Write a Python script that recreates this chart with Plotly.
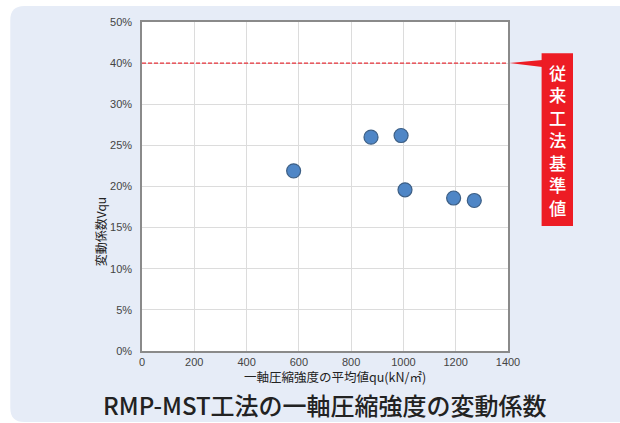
import plotly.graph_objects as go

# ---- data ----
strength_qu = [580, 876, 991, 1006, 1192, 1271]          # kN/m2
cv_percent = [21.9, 26.0, 26.2, 19.6, 18.6, 18.3]         # %
baseline_percent = 40
y_tick_values = [0, 5, 10, 15, 20, 25, 30, 40, 50]
y_tick_labels = ["0%", "5%", "10%", "15%", "20%", "25%", "30%", "40%", "50%"]
x_tick_values = [0, 200, 400, 600, 800, 1000, 1200, 1400]
label_text = "従来工法基準値"

# reference axis: ticks evenly spaced although step changes from 5% to 10% above 30%
def ymap(v):
    return v if v <= 30 else 30 + (v - 30) / 2

W, H = 620, 423
L, R, T, B = 141.7, 112.3, 22, 72
pw, ph = W - L - R, H - T - B

def px(xp):  # pixel -> paper x
    return (xp - L) / pw

def py(yp):  # pixel -> paper y
    return 1 - (yp - T) / ph

fig = go.Figure()

fig.add_trace(go.Scatter(
    x=strength_qu, y=[ymap(v) for v in cv_percent], mode="markers",
    marker=dict(size=14, color="#4f86c6", line=dict(color="#3d5f85", width=1.2)),
    hoverinfo="x+y", showlegend=False,
))

# baseline dashed line
fig.add_trace(go.Scatter(
    x=[0, 1400], y=[ymap(baseline_percent)] * 2, mode="lines",
    line=dict(color="#e8323a", width=1.2, dash="4px,2px"),
    hoverinfo="skip", showlegend=False,
))

shapes = []
r = 14
shapes.append(dict(
    type="path", xref="paper", yref="paper", layer="below",
    path=(f"M {px(10)} {py(6+r)} Q {px(10)} {py(6)} {px(10+r)} {py(6)} "
          f"L {px(640)} {py(6)} L {px(640)} {py(422)} L {px(10+r)} {py(422)} "
          f"Q {px(10)} {py(422)} {px(10)} {py(422-r)} Z"),
    fillcolor="#e6ecf7", line=dict(width=0),
))
# white plot area
shapes.append(dict(type="rect", xref="paper", yref="paper", layer="below",
                   x0=0, y0=0, x1=1, y1=1, fillcolor="white", line=dict(width=0)))
# red label box
shapes.append(dict(type="rect", xref="paper", yref="paper",
                   x0=px(541.3), x1=px(572.7), y0=py(226), y1=py(53.3),
                   fillcolor="#ed1c24", line=dict(width=0)))
# pointer triangle
shapes.append(dict(type="path", xref="paper", yref="paper",
                   path=f"M {px(509)} {py(63)} L {px(542)} {py(60)} L {px(542)} {py(67)} Z",
                   fillcolor="#ed1c24", line=dict(width=0)))

annotations = []
annotations.append(dict(
    text="<br>".join(label_text), xref="paper", yref="paper", x=px(557), y=py(140.5),
    showarrow=False, align="center",
    font=dict(family="Noto Sans CJK JP", size=17.3, color="white", weight=500),
    xanchor="center", yanchor="middle"))
annotations.append(dict(
    text="変動係数Vqu", xref="paper", yref="paper", x=px(100), y=py(232),
    textangle=-90, showarrow=False, xanchor="center", yanchor="middle",
    font=dict(family="Noto Sans CJK JP", size=12, color="#222")))
annotations.append(dict(
    text="一軸圧縮強度の平均値qu(kN/㎡)", xref="paper", yref="paper", x=px(335), y=py(376),
    showarrow=False, xanchor="center", yanchor="middle",
    font=dict(family="Noto Sans CJK JP", size=12.5, color="#222")))
annotations.append(dict(
    text="RMP-MST工法の一軸圧縮強度の変動係数", xref="paper", yref="paper",
    x=px(325), y=py(404), showarrow=False, xanchor="center", yanchor="middle",
    font=dict(family="Noto Sans CJK JP", size=24, color="#222", weight=500)))

fig.update_layout(
    width=W, height=H,
    margin=dict(l=L, r=R, t=T, b=B, pad=0),
    paper_bgcolor="white", plot_bgcolor="rgba(0,0,0,0)",
    shapes=shapes, annotations=annotations,
    xaxis=dict(range=[0, 1400], tickvals=x_tick_values, showgrid=True,
               gridcolor="#dcdcdc", gridwidth=1, zeroline=False,
               showline=True, linecolor="#8a8a8a", linewidth=1.5, mirror=True,
               ticks="", tickfont=dict(family="Liberation Sans", size=11, color="#444")),
    yaxis=dict(range=[0, 40], tickvals=[ymap(v) for v in y_tick_values],
               ticktext=y_tick_labels, showgrid=True, gridcolor="#dcdcdc", gridwidth=1,
               zeroline=False, showline=True, linecolor="#8a8a8a", linewidth=1.5,
               mirror=True, ticks="", ticklabelstandoff=6,
               tickfont=dict(family="Liberation Sans", size=11, color="#444")),
)

fig.write_html("out.html", config={"displayModeBar": False},
               post_script="document.body.style.margin='0';document.body.style.overflow='hidden';")
